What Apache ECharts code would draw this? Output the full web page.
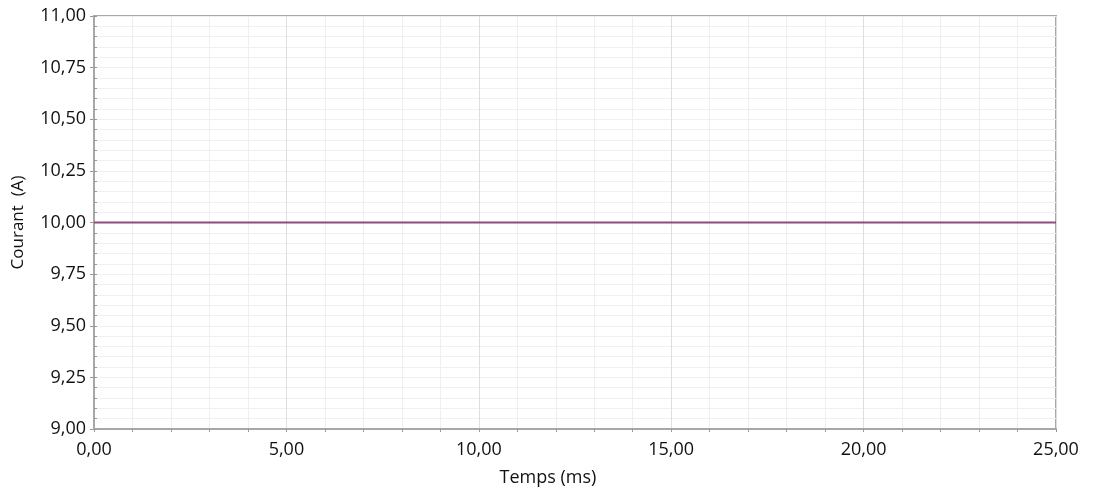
<!DOCTYPE html>
<html><head><meta charset="utf-8">
<script src="https://cdn.jsdelivr.net/npm/echarts@6/dist/echarts.min.js"></script>
<style>html,body{margin:0;padding:0;background:#fff}#c{width:1099px;height:491px}</style>
</head><body><div id="c"></div>
<script>
const times = [0, 25];
const current = [10, 10];
const xLabelFmt = v => v.toFixed(2).replace('.', ',');
const yLabelFmt = v => v.toFixed(2).replace('.', ',');

const chart = echarts.init(document.getElementById('c'), null, {renderer: 'canvas'});
const font = '"Open Sans", sans-serif';
chart.setOption({
  animation: false,
  grid: {left: 94, right: 43, top: 16, bottom: 62, containLabel: false, outerBoundsMode: 'none',
         show: true, borderColor: '#a8a8a8', borderWidth: 2, backgroundColor: '#fff'},
  xAxis: {
    type: 'value', min: 0, max: 25, interval: 5,
    name: 'Temps (ms)', nameLocation: 'middle', nameGap: 40,
    nameTextStyle: {fontFamily: font, fontSize: 18, color: '#111', padding: [0, 54, 0, 0]},
    axisLine: {show: true, lineStyle: {color: '#a8a8a8', width: 2}},
    axisTick: {show: true, length: 3, lineStyle: {color: '#999'}},
    minorTick: {show: true, splitNumber: 5, length: 3, lineStyle: {color: '#999'}},
    axisLabel: {formatter: xLabelFmt, fontFamily: font, fontSize: 18, color: '#111', margin: 12},
    splitLine: {show: true, lineStyle: {color: '#dedede', width: 1}},
    minorSplitLine: {show: true, lineStyle: {color: '#efefef', width: 1}}
  },
  yAxis: [{
    type: 'value', min: 9, max: 11, interval: 0.25,
    name: 'Courant  (A)', nameLocation: 'middle', nameGap: 67, nameRotate: 90,
    nameTextStyle: {fontFamily: font, fontSize: 17, color: '#111'},
    axisLine: {show: true, lineStyle: {color: '#a8a8a8', width: 2}},
    axisTick: {show: true, length: 4, lineStyle: {color: '#999'}},
    axisLabel: {formatter: yLabelFmt, fontFamily: font, fontSize: 18, color: '#111', margin: 8},
    splitLine: {show: true, lineStyle: {color: '#e2e2e2', width: 1}},
    minorTick: {show: false},
    minorSplitLine: {show: false}
  }, {
    type: 'value', min: 9, max: 11, interval: 0.05, position: 'left',
    axisLine: {show: false},
    axisTick: {show: true, inside: true, length: 3, lineStyle: {color: '#999'}},
    axisLabel: {show: false},
    splitLine: {show: true, lineStyle: {color: '#f0f0f0', width: 1}}
  }],
  series: [{
    type: 'line', yAxisIndex: 0,
    data: times.map((t, i) => [t, current[i]]),
    showSymbol: false, symbol: 'none',
    lineStyle: {color: '#8f4a7e', width: 2},
    z: 10
  }]
});
</script></body></html>
